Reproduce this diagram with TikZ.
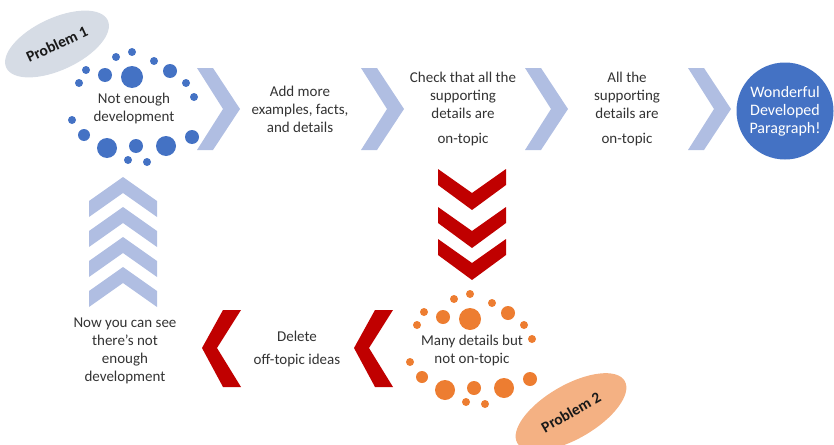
\documentclass[tikz,border=0pt]{standalone}
\usepackage{fontspec}
\setmainfont{Carlito}
\usetikzlibrary{shapes.geometric,positioning}

\definecolor{dotblue}{HTML}{4472C4}
\definecolor{dotorange}{HTML}{ED7D31}
\definecolor{chevlight}{HTML}{B0BEE2}
\definecolor{chevred}{HTML}{C00000}
\definecolor{probgray}{HTML}{D6DCE5}
\definecolor{probpeach}{HTML}{F4B183}

\begin{document}
\begin{tikzpicture}[x=1pt, y=-1pt, font=\fontsize{15}{18}\selectfont,
    txt/.style={align=center, text=black!80, inner sep=0pt},
    prob/.style={ellipse, minimum width=112pt, minimum height=52pt, inner sep=0pt, font=\fontsize{15.5}{17}\selectfont\bfseries, text=black!90}]
    \clip (0,0) rectangle (834,444);

    % problem tags
    \node[prob, fill=probgray, rotate=25]   (prob1) at (57,44)   {Problem 1};
    \node[prob, fill=probpeach, rotate=30, minimum width=124pt, minimum height=54pt] (prob2) at (571,412) {Problem 2};

    % texts
    \node[txt]  (notenough) at (134,108) {Not enough\\development};
    \node[txt]  (addmore)   at (300,109) {Add more\\examples, facts,\\and details};
    \node[txt]  (check)     at (463,109) {Check that all the\\supporting\\details are\\[7pt]on-topic};
    \node[txt]  (allon)     at (627,109) {All the\\supporting\\details are\\[7pt]on-topic};
    \node[circle, fill=dotblue, minimum size=97pt, align=center, text=white, inner sep=0pt,
          font=\fontsize{16}{18}\selectfont] (wonder) at (785,111) {Wonderful\\Developed\\Paragraph!};
    \node[txt]  (manydet)   at (472,350) {Many details but\\not on-topic};
    \node[txt]  (delete)    at (297,349) {Delete\\[5pt]off-topic ideas};
    \node[txt]  (nowsee)    at (125,351) {Now you can see\\there’s not\\enough\\development};

    % dot rings
    \foreach \dx/\dy/\r in {-2/-56/4, -18/-51/4, 20/-47/4, -48/-38/4, -29/-33/7, -2/-31/11, 36/-37/7,
                            -55/-25/4, 52/-25/4, 60/-11/4, -62/12/4, -50/27/6, -27/40/10, 2/38/7,
                            32/38/10, 58/29/7, -6/52/4, 13/54/4}{
        \fill[dotblue, shift={(notenough.center)}]  (\dx,\dy) circle (\r pt);
        \fill[dotorange, shift={(manydet.center)}]  (\dx,\dy) circle (\r pt);
    }

    % chevrons
    \foreach \x in {197,361,525,688}
        \fill[chevlight] (\x,68) -- ++(16,0) -- ++(27,41) -- ++(-27,41) -- ++(-16,0) -- ++(26,-41) -- cycle;
    \foreach \t in {177,207,237,267}
        \fill[chevlight] (123,\t) -- ++(34,24) -- ++(0,16) -- ++(-34,-24) -- ++(-34,24) -- ++(0,-16) -- cycle;
    \foreach \s in {169,207,239}
        \fill[chevred] (438,\s) -- ++(34,24) -- ++(34,-24) -- ++(0,16) -- ++(-34,25) -- ++(-34,-25) -- cycle;
    \foreach \r in {241,393}
        \fill[chevred] (\r,310) -- ++(-18,0) -- ++(-21,38) -- ++(21,39) -- ++(18,0) -- ++(-24,-39) -- cycle;
\end{tikzpicture}
\end{document}
